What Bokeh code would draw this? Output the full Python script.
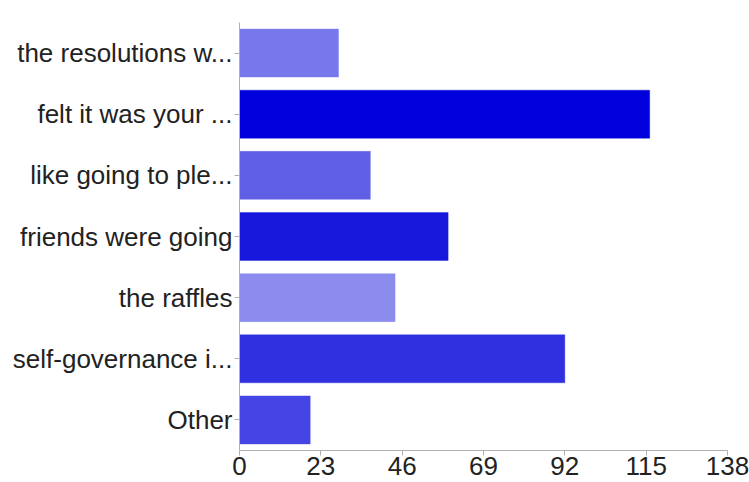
from bokeh.plotting import figure
from bokeh.models import ColumnDataSource, FixedTicker, Range1d, FactorRange
from bokeh.embed import file_html
from bokeh.resources import INLINE

categories = ["the resolutions w...", "felt it was your ...", "like going to ple...",
              "friends were going", "the raffles", "self-governance i...", "Other"]
values = [28, 116, 37, 59, 44, 92, 20]
colors = ["#7878ec", "#0000dc", "#6060e6", "#1818dc", "#8c8cee", "#3030e0", "#4545e6"]
x_ticks = [0, 23, 46, 69, 92, 115, 138]

source = ColumnDataSource(dict(cat=categories, val=values, color=colors))

p = figure(width=749, height=482, output_backend="svg", toolbar_location=None,
           y_range=FactorRange(*list(reversed(categories)), range_padding=0),
           x_range=Range1d(0, 138),
           min_border_left=239, min_border_right=22, min_border_top=22, min_border_bottom=32)
p.hbar(y="cat", right="val", left=0, height=0.785, fill_color="color",
       line_color="color", line_alpha=0.4, source=source)

p.outline_line_color = None
p.xgrid.grid_line_color = None
p.ygrid.grid_line_color = None

font = "Liberation Sans"
for ax in (p.xaxis[0], p.yaxis[0]):
    ax.axis_line_color = "#b0b0b0"
    ax.major_tick_line_color = "#b0b0b0"
    ax.minor_tick_line_color = None
    ax.major_tick_in = 0
    ax.major_tick_out = 5
    ax.major_label_text_font = font
    ax.major_label_text_font_size = "26px"
    ax.major_label_text_color = "#222222"
    ax.major_label_standoff = 2
p.xaxis[0].major_label_standoff = 1

p.xaxis.ticker = FixedTicker(ticks=x_ticks)

open("out.html", "w").write(file_html(p, INLINE))
